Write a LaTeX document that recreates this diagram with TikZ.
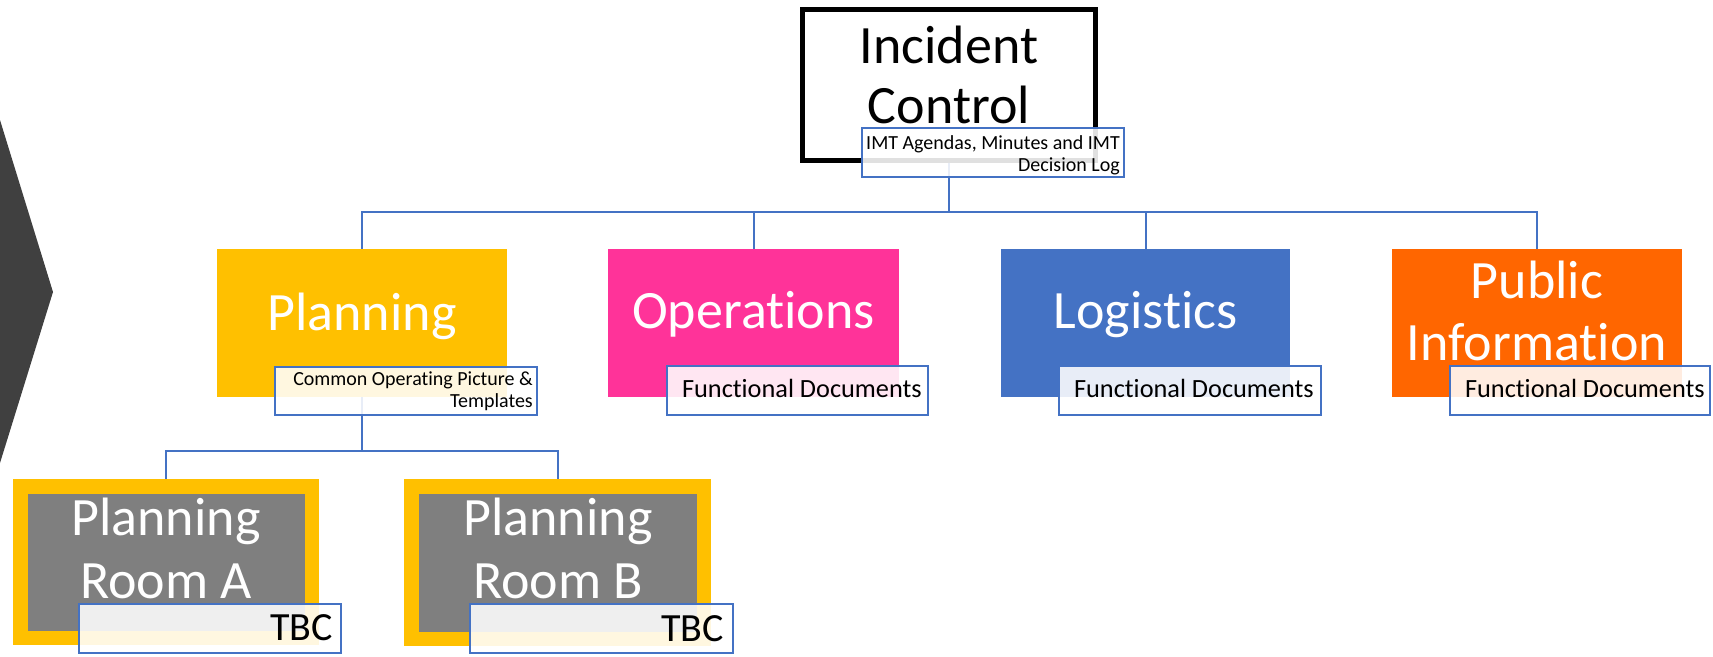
\documentclass[tikz,border=0pt]{standalone}
\usepackage{fontspec}
\setmainfont{Carlito}[Ligatures={NoCommon,NoContextual},RawFeature={-dlig}]
\definecolor{gold}{RGB}{255,192,0}
\definecolor{pinkc}{RGB}{255,51,153}
\definecolor{bluec}{RGB}{68,114,196}
\definecolor{orangec}{RGB}{255,102,0}
\definecolor{grayc}{RGB}{127,127,127}
\definecolor{chev}{RGB}{64,64,64}
\definecolor{connc}{RGB}{68,114,196}
\pgfdeclarelayer{background}
\pgfsetlayers{background,main}
\begin{document}
\begin{tikzpicture}[x=1pt,y=-1pt,
  conn/.style={draw=connc, line width=2pt},
  unit/.style={rectangle, inner sep=0pt, outer sep=0pt, draw=none},
  big/.style={text=white, align=center, inner sep=0pt, anchor=base},
  doc/.style={rectangle, draw=connc, line width=2pt, fill=white, fill opacity=0.88, inner sep=0pt, outer sep=0pt},
  smalltext/.style={font=\fontsize{20}{21.5}\selectfont, text=black, align=right, inner sep=0pt, anchor=base east},
  fdtext/.style={font=\fontsize{26.3}{30}\selectfont, text=black, inner sep=0pt, anchor=base east},
  tbctext/.style={font=\fontsize{40}{44}\selectfont, text=black, inner sep=0pt, anchor=base east},
  room/.style={rectangle, fill=grayc, draw=gold, line width=14.5pt, inner sep=0pt, outer sep=0pt},
]
\useasboundingbox (0,0) rectangle (1713,656);

% chevron
\fill[chev] (0,120) -- (53,292) -- (0,463) -- cycle;

% Incident control
\node[rectangle, draw=black, fill=white, line width=5pt, inner sep=0pt, outer sep=0pt,
      minimum width=293pt, minimum height=151pt] (ic) at (949,85) {};
\node[big, text=black, font=\fontsize{54}{60}\selectfont] (ictext) at (949,123) {Incident\\Control};

% section boxes
\node[unit, fill=gold, minimum width=290pt, minimum height=148pt] (plan) at (362,323) {};
\node[big, font=\fontsize{54}{60}\selectfont] (plantext) at (362,330) {Planning};

\node[unit, fill=pinkc, minimum width=291pt, minimum height=148pt] (ops) at (753.5,323) {};
\node[big, font=\fontsize{54}{60}\selectfont] (opstext) at (753.5,328) {Operations};

\node[unit, fill=bluec, minimum width=289pt, minimum height=148pt] (log) at (1145.5,323) {};
\node[big, font=\fontsize{54}{60}\selectfont] (logtext) at (1145.5,328) {Logistics};

\node[unit, fill=orangec, minimum width=290pt, minimum height=148pt] (pub) at (1537,323) {};
\node[big, font=\fontsize{54}{62}\selectfont] (pubtext) at (1537,360) {Public\\Information};

% rooms
\node[room, minimum width=291.5pt, minimum height=151.5pt] (rooma) at (166,562) {};
\node[big, font=\fontsize{54}{63}\selectfont] (roomatext) at (166,598) {Planning\\Room A};

\node[room, minimum width=292.5pt, minimum height=152.5pt] (roomb) at (557.5,562.5) {};
\node[big, font=\fontsize{54}{63}\selectfont] (roombtext) at (558,598) {Planning\\Room B};

% connectors
\coordinate (bus) at (949,212);
\coordinate (subbus) at (362,451);
\begin{pgfonlayer}{background}
\draw[conn] (ic.south) -- (bus);
\draw[conn] (bus) -| (plan.north);
\draw[conn] (bus) -| (ops.north);
\draw[conn] (bus) -| (log.north);
\draw[conn] (bus) -| (pub.north);
\draw[conn] (plan.south) -- (subbus);
\draw[conn] (subbus) -| (rooma.north);
\draw[conn] (subbus) -| (roomb.north);
\end{pgfonlayer}

% document labels
\node[doc, minimum width=262pt, minimum height=49pt] (icdoc) at (993,152.5) {};
\node[smalltext] (icdoctext) at (1120,171) {IMT Agendas, Minutes and IMT\\Decision Log};

\node[doc, minimum width=262pt, minimum height=48pt] (plandoc) at (406,391) {};
\node[smalltext] (plandoctext) at (533,407) {Common Operating Picture \&\\Templates};

\node[doc, minimum width=261pt, minimum height=49pt] (opsdoc) at (797.5,390.5) {};
\node[fdtext] (opsdoctext) at (922,397) {Functional Documents};

\node[doc, minimum width=262pt, minimum height=49pt] (logdoc) at (1190,390.5) {};
\node[fdtext] (logdoctext) at (1314,397) {Functional Documents};

\node[doc, minimum width=260pt, minimum height=49pt] (pubdoc) at (1580,390.5) {};
\node[fdtext] (pubdoctext) at (1705,397) {Functional Documents};

\node[doc, minimum width=262pt, minimum height=49pt] (adoc) at (210,628.5) {};
\node[tbctext] (adoctext) at (333,640) {TBC};

\node[doc, minimum width=263pt, minimum height=49pt] (bdoc) at (601.5,628.5) {};
\node[tbctext] (bdoctext) at (724,641) {TBC};
\end{tikzpicture}
\end{document}
